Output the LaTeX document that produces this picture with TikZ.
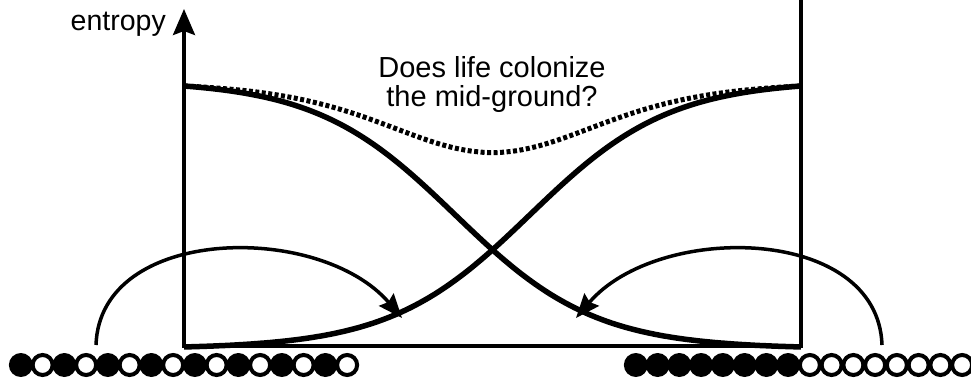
\documentclass[tikz,border=0pt]{standalone}
\usepackage{fontspec}
\setmainfont{Liberation Sans}
\usetikzlibrary{arrows.meta}
\begin{document}
\begin{tikzpicture}[x=1pt,y=-1pt,
  declare function={Lg(\t)=1/(1+exp(-(\t-455)/70));
                    Dc(\t)=86+261*(Lg(\t)-0.02041)/0.97251;
                    Rc(\t)=Dc(985-\t);},
  axis/.style={line width=3.5pt, line join=miter},
  curve/.style={line width=5.5pt, line join=round},
  dotcurve/.style={line width=5pt, dash pattern=on 4pt off 2.5pt},
  bendarrow/.style={line width=3.5pt, -{Stealth[length=24pt,width=19pt,inset=3pt]}},
  ball1/.style={circle, fill=black, minimum size=24pt, inner sep=0pt},
  ball0/.style={circle, draw=black, line width=4pt, fill=white, minimum size=20pt, inner sep=0pt},
  lbl/.style={font=\fontsize{28.5}{30}\selectfont, inner sep=0pt},
  qlbl/.style={font=\fontsize{29}{30}\selectfont, inner sep=0pt},
]
\useasboundingbox (0,0) rectangle (971,383);

% frame / axis
\coordinate (Rtop) at (801,0);
\coordinate (Rbot) at (801,346);
\coordinate (O) at (184,346);
\coordinate (Ytop) at (184,9);
\draw[axis, -{Stealth[length=26pt,width=22pt,inset=4pt]}] (Rtop) -- (Rbot) -- (O) -- (Ytop);

% dotted sum curve
\draw[dotcurve] plot[domain=184:801, samples=200] (\x,{Dc(\x)+Rc(\x)-347});
% solid curves
\draw[curve] plot[domain=184:801, samples=200] (\x,{Dc(\x)});
\draw[curve] plot[domain=184:801, samples=200] (\x,{Rc(\x)});

% labels
\node[lbl, anchor=base east] (ylab) at (166,30) {entropy};
\node[qlbl, anchor=base] (q1) at (492,77) {Does life colonize};
\node[qlbl, anchor=base] (q2) at (492,106) {the mid-ground?};

% ball rows
\foreach \i in {1,...,16}{
  \pgfmathtruncatemacro{\odd}{mod(\i,2)}
  \node[ball\odd] (L\i) at ({10+21.75*(\i-0.5)},365) {};
}
\foreach \i in {1,...,16}{
  \pgfmathtruncatemacro{\f}{\i<9}
  \node[ball\f] (R\i) at ({625+21.75*(\i-0.5)},365) {};
}

% arrows
\coordinate (a1s) at (96,345);
\coordinate (a1e) at (402,318);
\coordinate (a2s) at (882,345);
\coordinate (a2e) at (576,318);
\draw[bendarrow] (a1s) .. controls (100,225) and (320,222) .. (a1e);
\draw[bendarrow] (a2s) .. controls (878,225) and (658,222) .. (a2e);
\end{tikzpicture}
\end{document}
